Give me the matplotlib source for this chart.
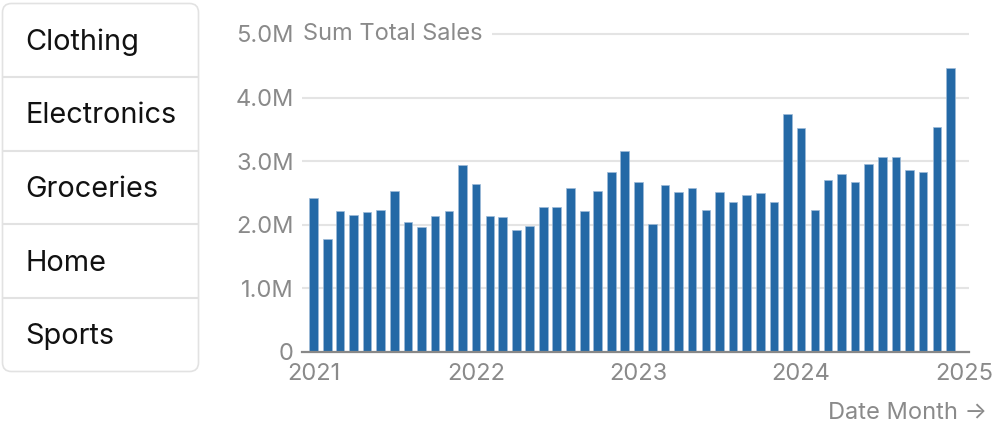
import pandas as pd
import matplotlib
matplotlib.use("Agg")
import matplotlib.pyplot as plt
import matplotlib.dates as mdates
from matplotlib.patches import FancyBboxPatch
from matplotlib.ticker import FuncFormatter

plt.rcParams['font.family'] = ['Inter', 'DejaVu Sans']

# data (monthly sum of total sales, millions)
categories = ["Clothing", "Electronics", "Groceries", "Home", "Sports"]
months = pd.date_range("2021-01-01", periods=48, freq="MS")
sales_m = [2.416, 1.770, 2.216, 2.153, 2.205, 2.231, 2.526, 2.042, 1.959, 2.132, 2.216, 2.940,
           2.646, 2.137, 2.116, 1.910, 1.975, 2.274, 2.274, 2.583, 2.221, 2.536, 2.825, 3.156,
           2.667, 2.016, 2.620, 2.510, 2.583, 2.226, 2.520, 2.350, 2.463, 2.499, 2.350, 3.738,
           3.523, 2.226, 2.709, 2.798, 2.667, 2.951, 3.061, 3.066, 2.861, 2.825, 3.543, 4.463]
sales = [v * 1e6 for v in sales_m]
y_ticks = [0, 1e6, 2e6, 3e6, 4e6, 5e6]
year_ticks = pd.to_datetime(["2021-01-01", "2022-01-01", "2023-01-01", "2024-01-01", "2025-01-01"])

TICK_GRAY = "#8a8a8a"
BAR_BLUE = "#2469a6"
FS = 17

fig = plt.figure(figsize=(10, 4.32), dpi=100)

# --- category list on the left ---
side = fig.add_axes([0, 0, 1, 1])
side.set_xlim(0, 1000)
side.set_ylim(432, 0)
side.axis("off")
box = FancyBboxPatch((2.5, 3.5), 196, 368, boxstyle="round,pad=0,rounding_size=9",
                     facecolor="white", edgecolor="#e2e2e2", linewidth=1.2)
side.add_patch(box)
row_h = 368 / len(categories)
for i, name in enumerate(categories):
    top = 3.5 + i * row_h
    if i > 0:
        side.plot([3, 198], [top, top], color="#e2e2e2", linewidth=1.5)
    side.text(25.5, top + row_h / 2 + 2, name, fontsize=20.8, color="#111111",
              va="center", ha="left")

# --- bar chart ---
ax = fig.add_axes([0.302, (432 - 351.7) / 432, 0.667, (351.7 - 30.8) / 432])
ax.bar(months, sales, width=19.5, color=BAR_BLUE, edgecolor="#9dbbd8",
       linewidth=0.5, zorder=3)

ax.set_ylim(0, 5.05e6)
ax.set_xlim(pd.Timestamp("2020-12-06"), pd.Timestamp("2025-01-12"))
ax.set_yticks(y_ticks)
ax.yaxis.set_major_formatter(FuncFormatter(lambda v, p: "0" if v == 0 else f"{v / 1e6:.1f}M"))
ax.set_xticks(year_ticks)
ax.xaxis.set_major_formatter(mdates.DateFormatter("%Y"))

for v in y_ticks[1:]:
    ax.axhline(v, color="#e4e4e4", linewidth=1.5, zorder=1)

for s in ["top", "right", "left"]:
    ax.spines[s].set_visible(False)
ax.spines["bottom"].set_color("#888888")
ax.spines["bottom"].set_linewidth(1.6)
ax.spines["bottom"].set_zorder(4)

ax.tick_params(axis="both", length=0, labelsize=FS, labelcolor=TICK_GRAY)
ax.tick_params(axis="y", pad=6)
ax.tick_params(axis="x", pad=8)

ax.text(0.0015, 5e6, "Sum Total Sales", transform=ax.get_yaxis_transform(),
        fontsize=FS, color=TICK_GRAY, ha="left", va="center", zorder=5,
        bbox=dict(facecolor="white", edgecolor="none", pad=7))

fig.text(0.987, (432 - 419.3) / 432, "Date Month \u2192", fontsize=FS,
         color=TICK_GRAY, ha="right", va="baseline")

fig.savefig("out.png", dpi=100)
